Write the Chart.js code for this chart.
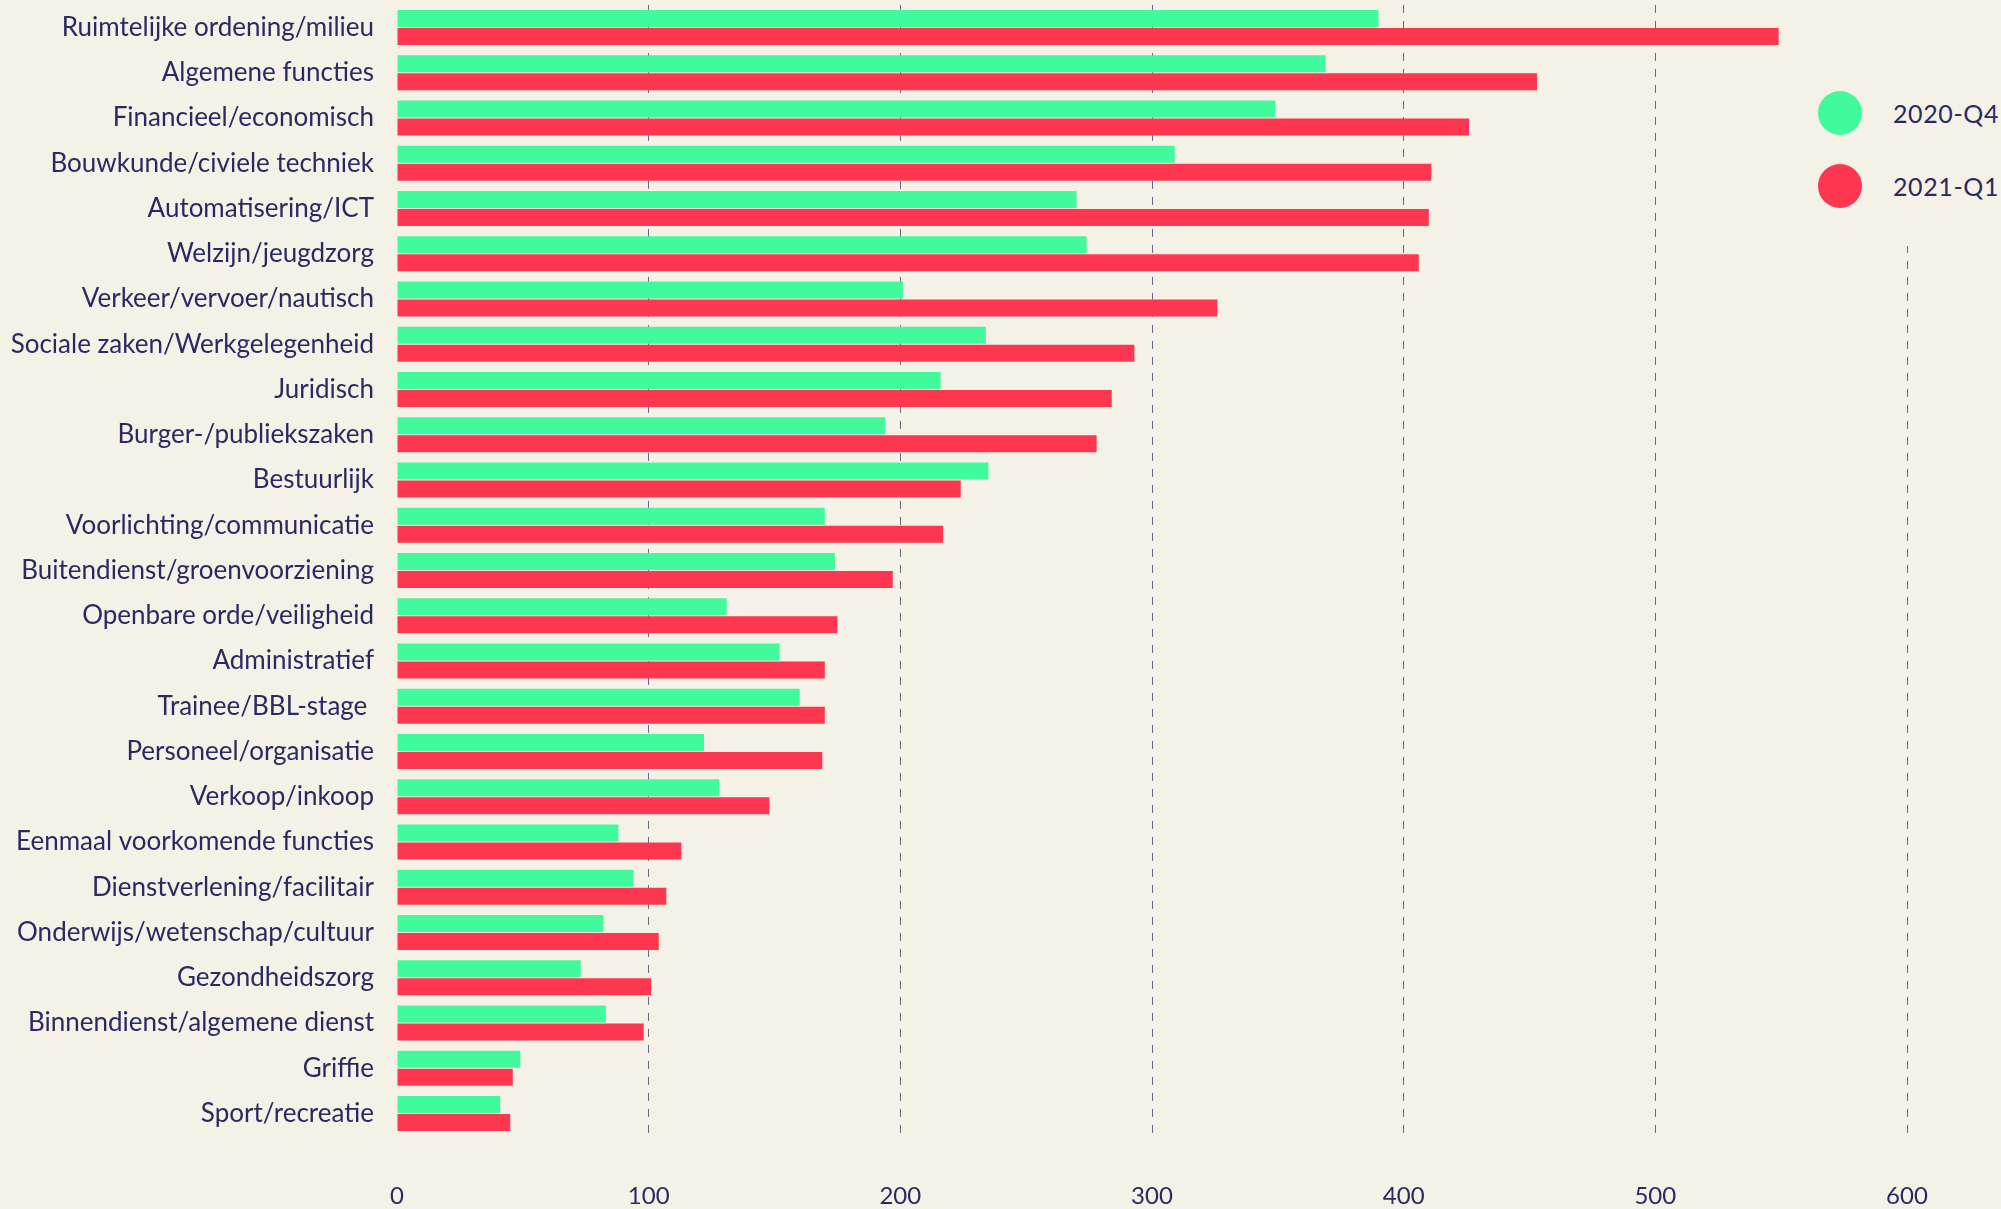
<!DOCTYPE html>
<html>
<head>
<meta charset="utf-8">
<script src="https://cdn.jsdelivr.net/npm/chart.js@4.4.1/dist/chart.umd.min.js"></script>
<style>
  html, body { margin: 0; padding: 0; background: #f4f1e6; overflow: hidden; }
  #wrap { position: relative; width: 2001px; height: 1209px; }
  #legend { position: absolute; left: 1780px; top: 0; width: 221px; height: 246px; background: #f4f1e6;
            font-family: Lato, "Noto Sans", sans-serif; color: #2c2962; font-size: 25px; }
  .item { position: absolute; left: 38px; width: 180px; height: 44px; }
  .dot { position: absolute; left: 0; top: 0; width: 44px; height: 44px; border-radius: 50%; }
  .lbl { position: absolute; left: 75px; top: 7px; white-space: nowrap; letter-spacing: 0.6px; line-height: 30px; }
</style>
</head>
<body>
<div id="wrap">
  <canvas id="c"></canvas>
  <div id="legend"></div>
</div>
<script>
const categories = [
  "Ruimtelijke ordening/milieu", "Algemene functies", "Financieel/economisch",
  "Bouwkunde/civiele techniek", "Automatisering/ICT", "Welzijn/jeugdzorg",
  "Verkeer/vervoer/nautisch", "Sociale zaken/Werkgelegenheid", "Juridisch",
  "Burger-/publiekszaken", "Bestuurlijk", "Voorlichting/communicatie",
  "Buitendienst/groenvoorziening", "Openbare orde/veiligheid", "Administratief",
  "Trainee/BBL-stage ", "Personeel/organisatie", "Verkoop/inkoop",
  "Eenmaal voorkomende functies", "Dienstverlening/facilitair",
  "Onderwijs/wetenschap/cultuur", "Gezondheidszorg", "Binnendienst/algemene dienst",
  "Griffie", "Sport/recreatie"
];
const seriesNames = ["2020-Q4", "2021-Q1"];
const values2020Q4 = [390, 369, 349, 309, 270, 274, 201, 234, 216, 194, 235, 170, 174, 131, 152, 160, 122, 128, 88, 94, 82, 73, 83, 49, 41];
const values2021Q1 = [549, 453, 426, 411, 410, 406, 326, 293, 284, 278, 224, 217, 197, 175, 170, 170, 169, 148, 113, 107, 104, 101, 98, 46, 45];
const xTicks = [0, 100, 200, 300, 400, 500, 600];

const colors = ["#41fa9b", "#fd374f"];
const textColor = "#2c2962";
const fontFamily = "Lato, 'Noto Sans', sans-serif";

// legend (HTML overlay)
const legend = document.getElementById('legend');
seriesNames.forEach((name, i) => {
  const it = document.createElement('div');
  it.className = 'item';
  it.style.top = (91 + i * 73) + 'px';
  it.innerHTML = '<div class="dot" style="background:' + colors[i] + '"></div><span class="lbl">' + name + '</span>';
  legend.appendChild(it);
});

new Chart(document.getElementById('c'), {
  type: 'bar',
  data: {
    labels: categories,
    datasets: [
      { label: seriesNames[0], data: values2020Q4, backgroundColor: colors[0], categoryPercentage: 0.796, barPercentage: 0.944 },
      { label: seriesNames[1], data: values2021Q1, backgroundColor: colors[1], categoryPercentage: 0.796, barPercentage: 0.944 }
    ]
  },
  options: {
    indexAxis: 'y',
    responsive: true,
    maintainAspectRatio: false,
    animation: false,
    layout: { padding: { top: 5, right: 94, bottom: 0, left: 0 } },
    plugins: { legend: { display: false }, tooltip: { enabled: false } },
    scales: {
      x: {
        min: 0, max: 600,
        afterBuildTicks: (s) => { s.ticks = xTicks.map(v => ({ value: v })); },
        grid: {
          drawTicks: false,
          color: (ctx) => (ctx.tick && ctx.tick.value === 0) ? 'rgba(0,0,0,0)' : 'rgba(60,56,110,0.75)',
          lineWidth: 1
        },
        border: { display: false, dash: [8, 8] },
        ticks: { color: textColor, font: { family: fontFamily, size: 24 }, padding: 46 },
        afterFit: (s) => { s.height = 73; s.paddingLeft = 0; s.paddingRight = 0; }
      },
      y: {
        grid: { display: false, drawTicks: false },
        border: { display: false },
        ticks: { color: textColor, font: { family: fontFamily, size: 26 }, padding: 23, autoSkip: false },
        afterFit: (s) => { s.width = 397; s.paddingTop = 0; s.paddingBottom = 0; }
      }
    }
  }
});
</script>
</body>
</html>
